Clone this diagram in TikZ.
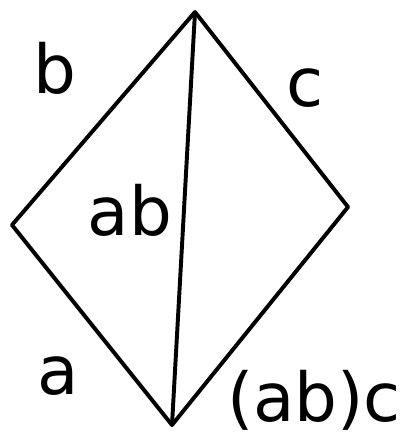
\documentclass[tikz,border=0pt]{standalone}
\usepackage{fontspec}
\setmainfont{DejaVu Sans}
\begin{document}
\begin{tikzpicture}[every node/.style={font=\fontsize{48}{52}\selectfont},
    edge/.style={line width=2.8pt, line join=round, line cap=round}]
    \useasboundingbox (0,0) rectangle (10.075,11);
    % vertici del rombo
    \coordinate (top) at (4.875,10.7);
    \coordinate (left) at (0.3,5.375);
    \coordinate (right) at (8.7,5.825);
    \coordinate (bottom) at (4.3,0.375);

    % lati e diagonale
    \draw[edge] (top) -- (left) -- (bottom) -- (right) -- (top);
    \draw[edge] (top) -- (bottom);

    % etichette
    \node (lb) at (1.375,9.3) {b};
    \node (lc) at (7.625,8.8) {c};
    \node (lab) at (3.25,5.75) {ab};
    \node (la) at (1.45,1.6) {a};
    \node (labc) at (7.85,1.0) {(ab)c};
\end{tikzpicture}
\end{document}
